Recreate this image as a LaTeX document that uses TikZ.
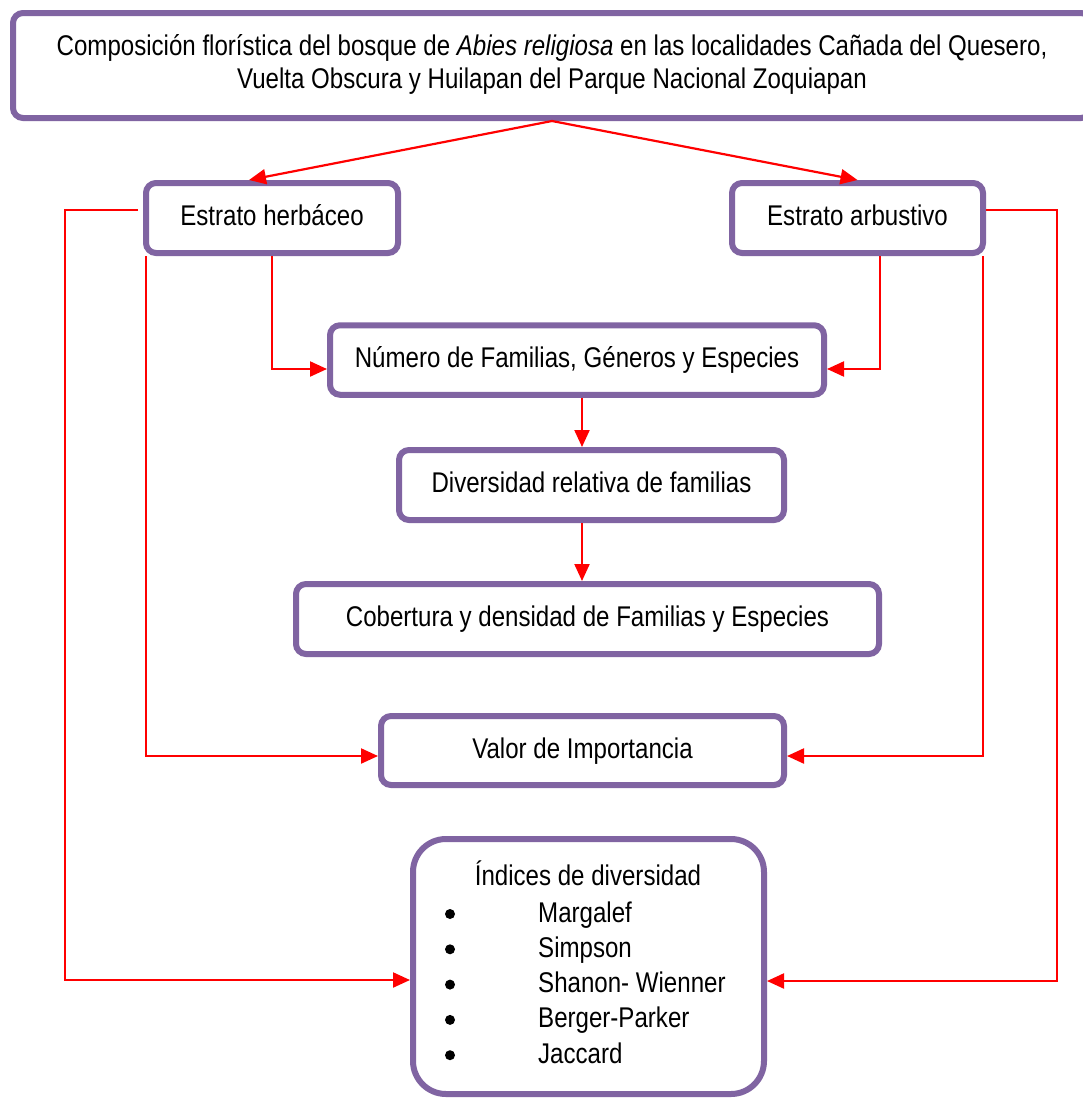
\documentclass[tikz,border=0pt]{standalone}
\usepackage{fontspec}
\setmainfont{Liberation Sans}[FakeStretch=0.845]
\usetikzlibrary{arrows.meta,calc}
\definecolor{boxpurple}{HTML}{8064A2}
\definecolor{arrred}{HTML}{FF0000}
\begin{document}
\begin{tikzpicture}[x=1pt,y=-1pt,
  box/.style={draw=boxpurple, line width=6pt, rounded corners=10pt, fill=white,
    font=\fontsize{28.5}{33}\selectfont, inner sep=0pt, text height=20.5pt, text depth=5.5pt},
  txt/.style={font=\fontsize{28.5}{33}\selectfont, inner sep=0pt},
  arr/.style={draw=arrred, line width=2.2pt, -{Triangle[length=17pt,width=15pt]}},
]
\useasboundingbox (0,0) rectangle (1083,1098);
\fill[white] (0,0) rectangle (1083,1098);

% boxes
\node[box, minimum width=1078pt, minimum height=105pt] (top) at (552,65.5) {};
\node[txt, anchor=base] (t1) at (552,55) {Composición florística del bosque de \textit{Abies religiosa} en las localidades Cañada del Quesero,};
\node[txt, anchor=base] (t2) at (552,88) {Vuelta Obscura y Huilapan del Parque Nacional Zoquiapan};

\node[box, minimum width=252pt, minimum height=70pt] (herb) at (272,218) {Estrato herbáceo};
\node[box, minimum width=251pt, minimum height=70pt] (arb) at (857.5,218) {Estrato arbustivo};
\node[box, minimum width=494pt, minimum height=69.5pt] (num) at (577,360) {Número de Familias, Géneros y Especies};
\node[box, minimum width=385pt, minimum height=70pt] (div) at (591.5,485) {Diversidad relativa de familias};
\node[box, minimum width=583pt, minimum height=70pt] (cob) at (587.5,619) {Cobertura y densidad de Familias y Especies};
\node[box, minimum width=403pt, minimum height=69pt] (val) at (582.5,750.5) {Valor de Importancia};
\node[box, rounded corners=33pt, minimum width=351pt, minimum height=255pt] (ind) at (588.5,966.5) {};

\node[txt, anchor=base] (ititle) at (588,885) {Índices de diversidad};
\foreach \k/\name in {0/Margalef,1/Simpson,2/Shanon- Wienner,3/Berger-Parker,4/Jaccard}{
  \node[txt, anchor=base west] (item\k) at (538,{922+35.3*\k}) {\name};
  \fill (450,{914+35.3*\k}) circle (5pt);
}

% coordinates
\coordinate (vx) at (582,0);
\coordinate (L1) at (65,210);
\coordinate (L2) at (65,980);
\coordinate (L3) at (146,756);
\coordinate (L4) at (272,369);
\coordinate (R1) at (1057,210);
\coordinate (R2) at (1057,981);
\coordinate (R3) at (983,756);
\coordinate (R4) at (880,369);

% connectors
\draw[arr] (top.south) -- ([xshift=-23pt]herb.north);
\draw[arr] (top.south) -- (arb.north);

\draw[arr] ([xshift=-5pt,yshift=8pt]herb.west) -- (L1) -- (L2) -- (L2 -| ind.west);
\draw[arr] (herb.south -| L3) -- (L3) -- (L3 -| val.west);
\draw[arr] (herb.south) -- (L4) -- (L4 -| num.west);

\draw[arr] ([yshift=8pt]arb.east) -- (R1) -- (R2) -- (R2 -| ind.east);
\draw[arr] (arb.south -| R3) -- (R3) -- (R3 -| val.east);
\draw[arr] (arb.south -| R4) -- (R4) -- (R4 -| num.east);

\draw[arr] (num.south -| vx) -- (div.north -| vx);
\draw[arr] (div.south -| vx) -- (cob.north -| vx);
\end{tikzpicture}
\end{document}
